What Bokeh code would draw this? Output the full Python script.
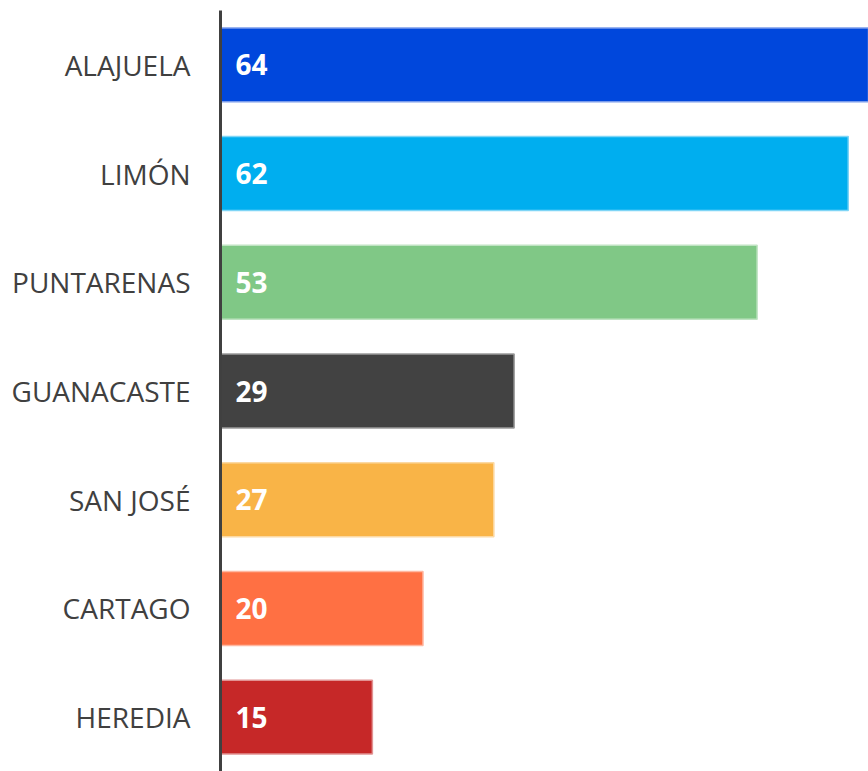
from bokeh.plotting import figure
from bokeh.models import ColumnDataSource, Range1d, FactorRange
from bokeh.embed import file_html
from bokeh.resources import INLINE
from bokeh.core.properties import value

provinces = ["ALAJUELA", "LIMÓN", "PUNTARENAS", "GUANACASTE", "SAN JOSÉ", "CARTAGO", "HEREDIA"]
counts = [64, 62, 53, 29, 27, 20, 15]
fill_colors = ["#0047DC", "#00AEEF", "#80C886", "#424242", "#F9B447", "#FF7043", "#C62828"]
edge_colors = ["#7A9CEB", "#7FD5F6", "#BFE3C2", "#9A9A9A", "#FCD9A3", "#FFB7A1", "#E29393"]

src = ColumnDataSource(dict(
    cat=provinces, val=counts, fill=fill_colors, edge=edge_colors,
    lab=[str(v) for v in counts], zero=[0] * len(counts),
))

p = figure(width=868, height=771, output_backend="svg", toolbar_location=None,
           y_range=FactorRange(factors=list(reversed(provinces))),
           x_range=Range1d(0, 64),
           min_border_left=220, min_border_top=10, min_border_bottom=0, min_border_right=0)

p.hbar(y="cat", left=0, right="val", height=0.68, source=src,
       fill_color="fill", line_color="edge", line_width=1.5)

p.text(x="zero", y="cat", text="lab", source=src, x_offset=15,
       text_baseline="middle", text_align="left", text_color="white",
       text_font=value("Open Sans"), text_font_style="bold", text_font_size="28px")

p.xaxis.visible = False
p.xgrid.visible = False
p.ygrid.visible = False
p.outline_line_color = None

ax = p.yaxis[0]
ax.axis_line_color = "#404040"
ax.axis_line_width = 3
ax.major_tick_line_color = None
ax.minor_tick_line_color = None
ax.major_label_standoff = 24
ax.major_label_text_font = "Open Sans"
ax.major_label_text_font_size = "28px"
ax.major_label_text_color = "#404040"

open("out.html", "w").write(file_html(p, INLINE))
